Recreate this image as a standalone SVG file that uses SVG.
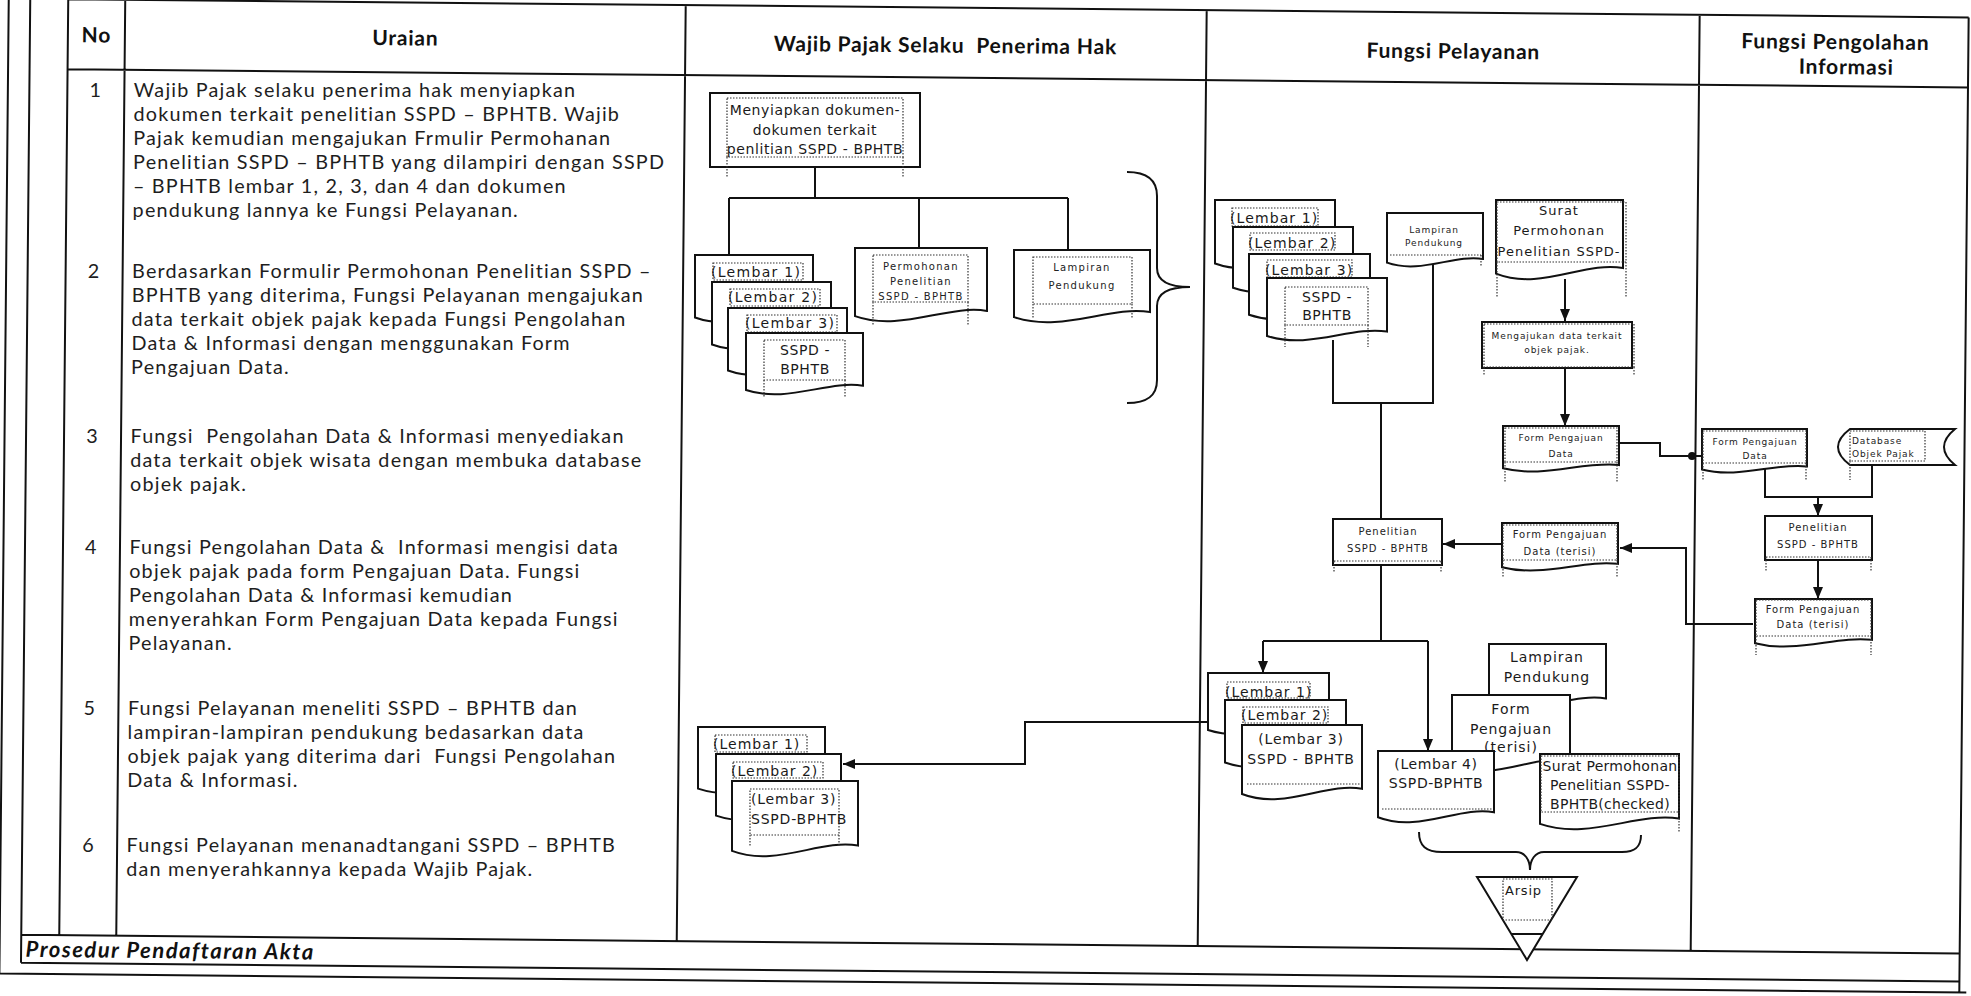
<svg xmlns="http://www.w3.org/2000/svg" width="1971" height="996" viewBox="0 0 1971 996">
<style>
.grid{fill:none;stroke:#111;stroke-width:2}
.hdr{font-family:Lato,'Open Sans',sans-serif;font-weight:bold;font-size:21px;fill:#111;text-anchor:middle;letter-spacing:0.8px}
.body{font-family:Lato,'Open Sans',sans-serif;font-size:19.8px;fill:#1e1e1e;letter-spacing:1.2px}
.num{text-anchor:middle}
.foot{font-family:Lato,'Open Sans',sans-serif;font-size:22px;font-style:italic;font-weight:bold;fill:#111;letter-spacing:1.5px}
.box{fill:#fff;stroke:#111;stroke-width:2}
.doc{fill:#fff;stroke:#111;stroke-width:2;vector-effect:non-scaling-stroke}
.dot{fill:none;stroke:#333;stroke-width:1.2;stroke-dasharray:1.5 1.5}
.conn{fill:none;stroke:#111;stroke-width:2}
.t14{font-family:'DejaVu Sans',sans-serif;font-size:14px;fill:#1a1a1a;letter-spacing:0.6px}
.t13{font-family:'DejaVu Sans',sans-serif;font-size:13px;fill:#1a1a1a;letter-spacing:1px}
.t10{font-family:'DejaVu Sans',sans-serif;font-size:10px;fill:#222;letter-spacing:1px}
.t9{font-family:'DejaVu Sans',sans-serif;font-size:9px;fill:#222;letter-spacing:0.9px}
.c{text-anchor:middle}
</style>
<defs>
<marker id="ah" viewBox="0 0 12 10" refX="12" refY="5" markerWidth="12" markerHeight="10" markerUnits="userSpaceOnUse" orient="auto">
<path d="M0,0L12,5L0,10Z" fill="#111"/>
</marker>
</defs>
<rect x="0" y="0" width="1971" height="996" fill="#fff"/>

<g id="table" transform="rotate(0.55 985 498)">
<path class="grid" d="M63.5,8H1964M63.5,78H1964M63.5,8V944M120.5,8V944M681,8V944M1202,8V944M1695,8V944M1964,8V983M25.5,944H1964M25.5,972H1964M0,983H1971M25.5,0V972M4,0V983"/>
<text class="hdr" x="92" y="51">No</text>
<text class="hdr" x="401" y="51">Uraian</text>
<text class="hdr" x="941" y="53">Wajib Pajak Selaku&#160; Penerima Hak</text>
<text class="hdr" x="1449" y="54">Fungsi Pelayanan</text>
<text class="hdr" x="1831" y="41">Fungsi Pengolahan</text>
<text class="hdr" x="1842" y="66">Informasi</text>
<text class="foot" x="30" y="966">Prosedur Pendaftaran Akta</text>
</g>

<g id="uraian" class="body">
<text class="num" x="95.8" y="97">1</text>
<text x="133.8" y="97">Wajib Pajak selaku penerima hak menyiapkan</text>
<text x="133.6" y="121">dokumen terkait penelitian SSPD – BPHTB. Wajib</text>
<text x="133.3" y="145">Pajak kemudian mengajukan Frmulir Permohanan</text>
<text x="133.1" y="169">Penelitian SSPD – BPHTB yang dilampiri dengan SSPD</text>
<text x="132.9" y="193">– BPHTB lembar 1, 2, 3, dan 4 dan dokumen</text>
<text x="132.6" y="217">pendukung lannya ke Fungsi Pelayanan.</text>
<text class="num" x="94.1" y="278">2</text>
<text x="132.1" y="278">Berdasarkan Formulir Permohonan Penelitian SSPD –</text>
<text x="131.8" y="302">BPHTB yang diterima, Fungsi Pelayanan mengajukan</text>
<text x="131.6" y="326">data terkait objek pajak kepada Fungsi Pengolahan</text>
<text x="131.4" y="350">Data &amp; Informasi dengan menggunakan Form</text>
<text x="131.1" y="374">Pengajuan Data.</text>
<text class="num" x="92.5" y="443">3</text>
<text x="130.5" y="443">Fungsi&#160; Pengolahan Data &amp; Informasi menyediakan</text>
<text x="130.2" y="467">data terkait objek wisata dengan membuka database</text>
<text x="130" y="491">objek pajak.</text>
<text class="num" x="91.4" y="554">4</text>
<text x="129.4" y="554">Fungsi Pengolahan Data &amp;&#160; Informasi mengisi data</text>
<text x="129.2" y="578">objek pajak pada form Pengajuan Data. Fungsi</text>
<text x="128.9" y="602">Pengolahan Data &amp; Informasi kemudian</text>
<text x="128.7" y="626">menyerahkan Form Pengajuan Data kepada Fungsi</text>
<text x="128.5" y="650">Pelayanan.</text>
<text class="num" x="89.9" y="715">5</text>
<text x="127.9" y="715">Fungsi Pelayanan meneliti SSPD – BPHTB dan</text>
<text x="127.6" y="739">lampiran-lampiran pendukung bedasarkan data</text>
<text x="127.4" y="763">objek pajak yang diterima dari&#160; Fungsi Pengolahan</text>
<text x="127.2" y="787">Data &amp; Informasi.</text>
<text class="num" x="88.5" y="852">6</text>
<text x="126.5" y="852">Fungsi Pelayanan menanadtangani SSPD – BPHTB</text>
<text x="126.3" y="876">dan menyerahkannya kepada Wajib Pajak.</text>
</g>

<g id="connectors" class="conn">
<path d="M815,167V198M729,198H1068M729,198V255M919,198V248M1068,198V250"/>
<path d="M1208,722H1025V764H843" marker-end="url(#ah)"/>
<path d="M1565,279V321" marker-end="url(#ah)"/>
<path d="M1565,368V426" marker-end="url(#ah)"/>
<path d="M1619,443H1660V456H1702"/>
<circle cx="1692" cy="456" r="4" fill="#111" stroke="none"/>
<path d="M1333,340V403H1433V262M1381,403V519"/>
<path d="M1502,544H1443" marker-end="url(#ah)"/>
<path d="M1753,624H1686V548H1620" marker-end="url(#ah)"/>
<path d="M1381,565V641M1263,641H1428"/>
<path d="M1263,641V673" marker-end="url(#ah)"/>
<path d="M1428,641V751" marker-end="url(#ah)"/>
<path d="M1765,466V497H1872V465"/>
<path d="M1818,497V516" marker-end="url(#ah)"/>
<path d="M1818,560V599" marker-end="url(#ah)"/>
</g>

<g id="n-menyiapkan">
<rect class="box" x="710" y="93" width="210" height="74"/>
<rect class="dot" x="727" y="98" width="176" height="59"/>
<path class="dot" d="M727,157V177M903,157V177"/>
<text class="t14 c"><tspan x="815" y="115">Menyiapkan dokumen-</tspan><tspan x="815" y="135">dokumen terkait</tspan><tspan x="815" y="154">penlitian SSPD - BPHTB</tspan></text>
</g>

<g id="n-wp-sspd-stack">
<path class="doc" transform="translate(695 255) scale(118 68)" d="M0,0H1V0.85C0.7,0.76 0.35,1.14 0,0.92Z"/>
<rect class="dot" x="713" y="263" width="90" height="17"/>
<text class="t14" x="711" y="277" style="letter-spacing:1.3px">(Lembar 1)</text>
<path class="doc" transform="translate(712 282) scale(119 68)" d="M0,0H1V0.85C0.7,0.76 0.35,1.14 0,0.92Z"/>
<rect class="dot" x="730" y="289" width="90" height="17"/>
<text class="t14" x="728" y="302" style="letter-spacing:1.3px">(Lembar 2)</text>
<path class="doc" transform="translate(728 308) scale(119 68)" d="M0,0H1V0.85C0.7,0.76 0.35,1.14 0,0.92Z"/>
<rect class="dot" x="747" y="315" width="90" height="17"/>
<text class="t14" x="745" y="328" style="letter-spacing:1.3px">(Lembar 3)</text>
<path class="doc" transform="translate(746 333) scale(117 62)" d="M0,0H1V0.85C0.7,0.76 0.35,1.14 0,0.92Z"/>
<rect class="dot" x="764" y="340" width="81" height="40"/>
<path class="dot" d="M764,380V398M845,380V398"/>
<text class="t14 c"><tspan x="805" y="355">SSPD -</tspan><tspan x="805" y="374">BPHTB</tspan></text>
</g>

<g id="n-wp-permohonan">
<path class="doc" transform="translate(855 248) scale(132 74)" d="M0,0H1V0.85C0.7,0.76 0.35,1.14 0,0.92Z"/>
<rect class="dot" x="873" y="255" width="95" height="47"/>
<path class="dot" d="M873,302V325M968,302V325"/>
<text class="t10 c" style="letter-spacing:1.3px"><tspan x="921" y="270">Permohonan</tspan><tspan x="921" y="285">Penelitian</tspan><tspan x="921" y="300">SSPD - BPHTB</tspan></text>
</g>

<g id="n-wp-lampiran">
<path class="doc" transform="translate(1014 250) scale(136 73)" d="M0,0H1V0.85C0.7,0.76 0.35,1.14 0,0.92Z"/>
<rect class="dot" x="1033" y="257" width="99" height="47"/>
<path class="dot" d="M1033,304V318M1132,304V318"/>
<text class="t10 c" style="letter-spacing:1.3px"><tspan x="1082" y="271">Lampiran</tspan><tspan x="1082" y="289">Pendukung</tspan></text>
</g>

<g id="n-wp-brace">
<path class="conn" d="M1127,172C1147,172 1157,180 1157,196V268C1157,280 1166,287 1190,287C1166,287 1157,294 1157,306V380C1157,396 1147,403 1127,403"/>
</g>

<g id="n-wp-return-stack">
<path class="doc" transform="translate(698 727) scale(127 67)" d="M0,0H1V0.85C0.7,0.76 0.35,1.14 0,0.92Z"/>
<rect class="dot" x="715" y="735" width="92" height="17"/>
<text class="t14" x="713" y="749" style="letter-spacing:1px">(Lembar 1)</text>
<path class="doc" transform="translate(716 754) scale(125 67)" d="M0,0H1V0.85C0.7,0.76 0.35,1.14 0,0.92Z"/>
<rect class="dot" x="733" y="762" width="90" height="16"/>
<text class="t14" x="731" y="776" style="letter-spacing:1px">(Lembar 2)</text>
<path class="doc" transform="translate(732 781) scale(126 76)" d="M0,0H1V0.85C0.7,0.76 0.35,1.14 0,0.92Z"/>
<rect class="dot" x="750" y="789" width="89" height="46"/>
<path class="dot" d="M750,835V846M839,835V846"/>
<text class="t14" style="letter-spacing:0.8px"><tspan x="751" y="804">(Lembar 3)</tspan><tspan x="751" y="824">SSPD-BPHTB</tspan></text>
</g>

<g id="n-fp-sspd-stack">
<path class="doc" transform="translate(1215 200) scale(120 69)" d="M0,0H1V0.85C0.7,0.76 0.35,1.14 0,0.92Z"/>
<rect class="dot" x="1232" y="208" width="86" height="18"/>
<text class="t14" x="1230" y="223" style="letter-spacing:1.1px">(Lembar 1)</text>
<path class="doc" transform="translate(1233 227) scale(120 66)" d="M0,0H1V0.85C0.7,0.76 0.35,1.14 0,0.92Z"/>
<rect class="dot" x="1250" y="233" width="85" height="17"/>
<text class="t14" x="1248" y="248" style="letter-spacing:1.1px">(Lembar 2)</text>
<path class="doc" transform="translate(1249 254) scale(121 66)" d="M0,0H1V0.85C0.7,0.76 0.35,1.14 0,0.92Z"/>
<rect class="dot" x="1267" y="260" width="85" height="17"/>
<text class="t14" x="1265" y="275" style="letter-spacing:1.1px">(Lembar 3)</text>
<path class="doc" transform="translate(1267 278) scale(120 63)" d="M0,0H1V0.85C0.7,0.76 0.35,1.14 0,0.92Z"/>
<rect class="dot" x="1285" y="287" width="83" height="38"/>
<path class="dot" d="M1285,325V347M1368,325V347"/>
<text class="t14 c"><tspan x="1327" y="302">SSPD -</tspan><tspan x="1327" y="320">BPHTB</tspan></text>
</g>

<g id="n-fp-lampiran">
<path class="doc" transform="translate(1387 213) scale(96 54)" d="M0,0H1V0.85C0.7,0.76 0.35,1.14 0,0.92Z"/>
<path class="dot" d="M1390,255H1481M1481,255V267"/>
<text class="t9 c"><tspan x="1434" y="233">Lampiran</tspan><tspan x="1434" y="246">Pendukung</tspan></text>
</g>

<g id="n-fp-surat">
<path class="doc" transform="translate(1496 200) scale(127 80)" d="M0,0H1V0.85C0.7,0.76 0.35,1.14 0,0.92Z"/>
<rect class="dot" x="1497" y="202" width="129" height="60"/>
<path class="dot" d="M1497,262V298M1626,262V298"/>
<text class="t13 c"><tspan x="1559" y="215">Surat</tspan><tspan x="1559" y="235">Permohonan</tspan><tspan x="1559" y="256">Penelitian SSPD-</tspan></text>
</g>

<g id="n-fp-mengajukan">
<rect class="box" x="1482" y="322" width="150" height="46"/>
<rect class="dot" x="1484" y="324" width="150" height="43"/>
<path class="dot" d="M1484,367V375M1634,367V375"/>
<text class="t9 c"><tspan x="1557" y="339">Mengajukan data terkait</tspan><tspan x="1557" y="353">objek pajak.</tspan></text>
</g>

<g id="n-fp-form">
<path class="doc" transform="translate(1503 426) scale(116 46)" d="M0,0H1V0.85C0.7,0.76 0.35,1.14 0,0.92Z"/>
<rect class="dot" x="1505" y="428" width="112" height="34"/>
<path class="dot" d="M1505,462V482M1617,462V482"/>
<text class="t9 c"><tspan x="1561" y="441">Form Pengajuan</tspan><tspan x="1561" y="457">Data</tspan></text>
</g>

<g id="n-fp-penelitian">
<rect class="box" x="1333" y="519" width="109" height="46"/>
<path class="dot" d="M1334,561H1441M1334,561V573M1441,561V573"/>
<text class="t10 c"><tspan x="1388" y="535">Penelitian</tspan><tspan x="1388" y="552">SSPD - BPHTB</tspan></text>
</g>

<g id="n-fp-form-terisi">
<path class="doc" transform="translate(1502 523) scale(116 48)" d="M0,0H1V0.85C0.7,0.76 0.35,1.14 0,0.92Z"/>
<rect class="dot" x="1503" y="525" width="114" height="35"/>
<path class="dot" d="M1503,560V577M1617,560V577"/>
<text class="t10 c"><tspan x="1560" y="538">Form Pengajuan</tspan><tspan x="1560" y="555">Data (terisi)</tspan></text>
</g>

<g id="n-fp-sspd-out">
<path class="doc" transform="translate(1208 673) scale(121 62)" d="M0,0H1V0.85C0.7,0.76 0.35,1.14 0,0.92Z"/>
<rect class="dot" x="1227" y="682" width="83" height="16"/>
<text class="t14" x="1225" y="697" style="letter-spacing:1px">(Lembar 1)</text>
<path class="doc" transform="translate(1225 700) scale(121 68)" d="M0,0H1V0.85C0.7,0.76 0.35,1.14 0,0.92Z"/>
<rect class="dot" x="1243" y="707" width="85" height="16"/>
<text class="t14" x="1241" y="720" style="letter-spacing:1px">(Lembar 2)</text>
<path class="doc" transform="translate(1242 725) scale(120 75)" d="M0,0H1V0.85C0.7,0.76 0.35,1.14 0,0.92Z"/>
<path class="dot" d="M1247,784H1360"/>
<text class="t14 c" style="letter-spacing:0.8px"><tspan x="1301" y="744">(Lembar 3)</tspan><tspan x="1301" y="764">SSPD - BPHTB</tspan></text>
</g>

<g id="n-fp-lampiran-arsip">
<path class="doc" transform="translate(1489 644) scale(117 64)" d="M0,0H1V0.85C0.7,0.76 0.35,1.14 0,0.92Z"/>
<text class="t14 c" style="letter-spacing:1px"><tspan x="1547" y="662">Lampiran</tspan><tspan x="1547" y="682">Pendukung</tspan></text>
</g>

<g id="n-fp-form-arsip">
<path class="doc" transform="translate(1452 695) scale(118 77)" d="M0,0H1V0.85C0.7,0.76 0.35,1.14 0,0.92Z"/>
<text class="t14 c" style="letter-spacing:1px"><tspan x="1511" y="714">Form</tspan><tspan x="1511" y="734">Pengajuan</tspan><tspan x="1511" y="752">(terisi)</tspan></text>
</g>

<g id="n-fp-lembar4">
<path class="doc" transform="translate(1378 751) scale(116 72)" d="M0,0H1V0.85C0.7,0.76 0.35,1.14 0,0.92Z"/>
<path class="dot" d="M1382,809H1492"/>
<text class="t14 c" style="letter-spacing:0.6px"><tspan x="1436" y="769">(Lembar 4)</tspan><tspan x="1436" y="788">SSPD-BPHTB</tspan></text>
</g>

<g id="n-fp-surat-checked">
<path class="doc" transform="translate(1540 754) scale(139 76)" d="M0,0H1V0.85C0.7,0.76 0.35,1.14 0,0.92Z"/>
<rect class="dot" x="1541" y="756" width="138" height="56"/>
<path class="dot" d="M1679,812V832"/>
<text class="t14 c" style="letter-spacing:0.3px"><tspan x="1610" y="771">Surat Permohonan</tspan><tspan x="1610" y="790">Penelitian SSPD-</tspan><tspan x="1610" y="809">BPHTB(checked)</tspan></text>
</g>

<g id="n-fp-brace">
<path class="conn" d="M1419,832C1419,846 1426,852 1442,852H1516C1525,852 1530,860 1530,870C1530,860 1535,852 1544,852H1622C1636,852 1641,846 1641,835"/>
</g>

<g id="n-fp-arsip">
<path class="box" d="M1477,877H1577L1527,960Z"/>
<path class="conn" d="M1511,934H1543"/>
<rect class="dot" x="1503" y="879" width="49" height="41"/>
<text class="t13" x="1505" y="895" style="letter-spacing:0.8px">Arsip</text>
</g>

<g id="n-pi-form">
<path class="doc" transform="translate(1702 429) scale(105 44)" d="M0,0H1V0.85C0.7,0.76 0.35,1.14 0,0.92Z"/>
<rect class="dot" x="1703" y="431" width="103" height="32"/>
<path class="dot" d="M1703,463V480M1806,463V480"/>
<text class="t9 c"><tspan x="1755" y="445">Form Pengajuan</tspan><tspan x="1755" y="459">Data</tspan></text>
</g>

<g id="n-pi-database">
<path class="box" d="M1850,429H1955Q1933,447 1955,465H1850Q1826,447 1850,429Z"/>
<rect class="dot" x="1850" y="431" width="75" height="30"/>
<path class="dot" d="M1850,461V480"/>
<text class="t9"><tspan x="1852" y="444">Database</tspan><tspan x="1852" y="457">Objek Pajak</tspan></text>
</g>

<g id="n-pi-penelitian">
<rect class="box" x="1765" y="516" width="107" height="44"/>
<path class="dot" d="M1766,557H1871M1766,557V572M1871,557V572"/>
<text class="t10 c"><tspan x="1818" y="531">Penelitian</tspan><tspan x="1818" y="548">SSPD - BPHTB</tspan></text>
</g>

<g id="n-pi-form-terisi">
<path class="doc" transform="translate(1755 599) scale(117 48)" d="M0,0H1V0.85C0.7,0.76 0.35,1.14 0,0.92Z"/>
<rect class="dot" x="1756" y="600" width="115" height="36"/>
<path class="dot" d="M1756,636V655M1871,636V655"/>
<text class="t10 c"><tspan x="1813" y="613">Form Pengajuan</tspan><tspan x="1813" y="628">Data (terisi)</tspan></text>
</g>
</svg>
